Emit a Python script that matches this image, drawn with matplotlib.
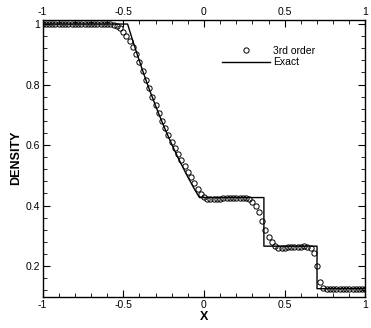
import numpy as np
import matplotlib
matplotlib.use("Agg")
import matplotlib.pyplot as plt
from matplotlib.ticker import MultipleLocator

plt.rcParams['font.family'] = ['Liberation Sans', 'DejaVu Sans']

# exact solution
x_exact = [-1.0, -0.473, -0.46, -0.44, -0.42, -0.40, -0.38, -0.36, -0.34, -0.32,
           -0.30, -0.28, -0.26, -0.24, -0.22, -0.20, -0.18, -0.16, -0.14, -0.12,
           -0.10, -0.08, -0.06, -0.04, -0.028, 0.371, 0.371, 0.70, 0.70, 1.0]
rho_exact = [1.0, 1.0, 0.977, 0.943, 0.910, 0.878, 0.846, 0.816, 0.786, 0.758,
             0.730, 0.703, 0.677, 0.651, 0.627, 0.603, 0.580, 0.557, 0.536, 0.515,
             0.494, 0.475, 0.455, 0.437, 0.4263, 0.4263, 0.2656, 0.2656, 0.125, 0.125]

# 3rd order scheme, 101 points on [-1, 1]
x_num = np.linspace(-1.0, 1.0, 101)
rho_num = (
    [1.000] * 20 +                                                   # -1.00 .. -0.62
    [1.000, 0.999, 0.998, 0.994, 0.986, 0.975, 0.961, 0.944,         # -0.60 .. -0.46
     0.923, 0.900, 0.875, 0.846, 0.816, 0.787, 0.759, 0.732,         # -0.44 .. -0.30
     0.706, 0.681, 0.657, 0.634, 0.611, 0.590, 0.569, 0.549,         # -0.28 .. -0.14
     0.530, 0.511, 0.493, 0.473, 0.453, 0.437, 0.427,                # -0.12 .. 0.00
     0.422, 0.420, 0.420, 0.421, 0.423, 0.424, 0.425, 0.425,         # 0.02 .. 0.16
     0.425, 0.425, 0.425, 0.425, 0.424, 0.420, 0.410, 0.397,         # 0.18 .. 0.32
     0.378, 0.350, 0.320, 0.296, 0.278, 0.267, 0.261, 0.259,         # 0.34 .. 0.48
     0.260, 0.262, 0.263, 0.264, 0.264, 0.264, 0.265, 0.264,         # 0.50 .. 0.64
     0.258, 0.243, 0.200, 0.148, 0.128, 0.123, 0.124] +              # 0.66 .. 0.78
    [0.125] * 11                                                     # 0.80 .. 1.00
)

fig = plt.figure(figsize=(3.71, 3.28), dpi=100)
ax = fig.add_axes([0.1146, 0.0945, 0.8705, 0.846])

ax.plot(x_num, rho_num, 'o', mfc='none', mec='black', ms=3.8, mew=0.7,
        label='3rd order')
ax.plot(x_exact, rho_exact, '-', color='black', lw=1.0, label='Exact')

ax.set_xlim(-1, 1)
ax.set_ylim(0.0975, 1.015)
ax.xaxis.set_major_locator(MultipleLocator(0.5))
ax.xaxis.set_minor_locator(MultipleLocator(0.1))
ax.yaxis.set_major_locator(MultipleLocator(0.2))
ax.yaxis.set_minor_locator(MultipleLocator(0.04))
ax.set_xticks([-1, -0.5, 0, 0.5, 1])
ax.set_xticklabels(['-1', '-0.5', '0', '0.5', '1'])
ax.set_yticks([0.2, 0.4, 0.6, 0.8, 1.0])
ax.set_yticklabels(['0.2', '0.4', '0.6', '0.8', '1'])
ax.tick_params(which='both', direction='in', top=True, right=True,
               labeltop=True, labelsize=7.5, pad=2)
ax.tick_params(which='major', length=5, width=0.8)
ax.tick_params(which='minor', length=3, width=0.6)
for s in ax.spines.values():
    s.set_linewidth(1.0)

ax.set_xlabel('X', fontsize=9, fontweight='bold', labelpad=1)
ax.set_ylabel('DENSITY', fontsize=9, fontweight='bold', labelpad=2)

ax.legend(loc='upper left', bbox_to_anchor=(0.555, 0.905), frameon=False,
          fontsize=7.5, handlelength=4.6, handletextpad=0.35,
          labelspacing=0.15, borderpad=0, borderaxespad=0)

fig.savefig('out.png', dpi=100)
